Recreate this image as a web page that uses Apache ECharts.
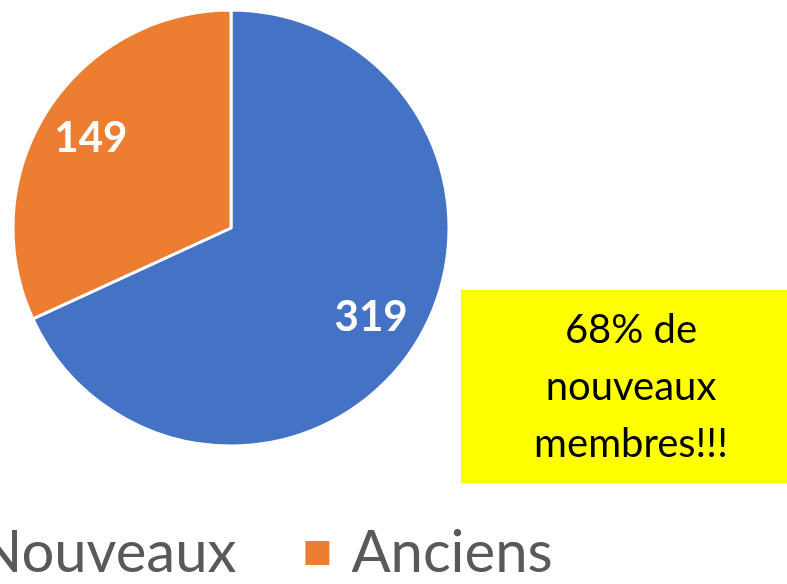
<!DOCTYPE html>
<html>
<head>
<meta charset="utf-8">
<script src="https://cdn.jsdelivr.net/npm/echarts@6/dist/echarts.min.js"></script>
<style>
  html, body { margin: 0; padding: 0; background: #fff; }
  #chart { width: 787px; height: 584px; }
</style>
</head>
<body>
<div id="chart"></div>
<script>
var categories = ['Nouveaux', 'Anciens']
var values = [319, 149]
var colors = ['#4472C4', '#ED7D31']
var noteLines = ['68% de', 'nouveaux', 'membres!!!']

var chart = echarts.init(document.getElementById('chart'))

var pieData = categories.map(function(name, i) {
    return { name: name, value: values[i], itemStyle: { color: colors[i] } }
})

var option = {
    animation: false,
    legend: {
        data: categories,
        left: -75,
        top: 519,
        itemWidth: 26,
        itemHeight: 26,
        itemGap: 67,
        icon: 'rect',
        textStyle: {
            fontFamily: 'Lato',
            fontSize: 58,
            color: '#595959',
            padding: [0, 0, 0, 16]
        }
    },
    graphic: [{
        type: 'rect',
        shape: { x: 461, y: 290, width: 330, height: 193 },
        style: { fill: '#FFFF00' }
    }, {
        type: 'text',
        x: 631,
        y: 387,
        style: {
            text: noteLines.join('\n'),
            fontFamily: 'Lato',
            fontSize: 40,
            lineHeight: 57,
            fill: '#000',
            align: 'center',
            verticalAlign: 'middle'
        }
    }],
    series: [{
        type: 'pie',
        center: [231, 228],
        radius: [0, 218],
        startAngle: 90,
        clockwise: true,
        data: pieData,
        label: { show: false },
        labelLine: { show: false },
        itemStyle: { borderColor: '#fff', borderWidth: 3 },
        emphasis: { disabled: true }
    }, {
        // label layer only: puts the values at 3/4 of the radius
        type: 'pie',
        center: [231, 228],
        radius: [109, 218],
        startAngle: 90,
        clockwise: true,
        silent: true,
        data: pieData.map(function(d) {
            return { name: d.name, value: d.value, itemStyle: { color: 'rgba(0,0,0,0)', borderWidth: 0 } }
        }),
        label: {
            show: true,
            position: 'inside',
            formatter: '{c}',
            color: '#fff',
            fontFamily: 'Lato',
            fontWeight: 'bold',
            fontSize: 42
        },
        labelLine: { show: false },
        emphasis: { disabled: true }
    }]
}

chart.setOption(option)
</script>
</body>
</html>
